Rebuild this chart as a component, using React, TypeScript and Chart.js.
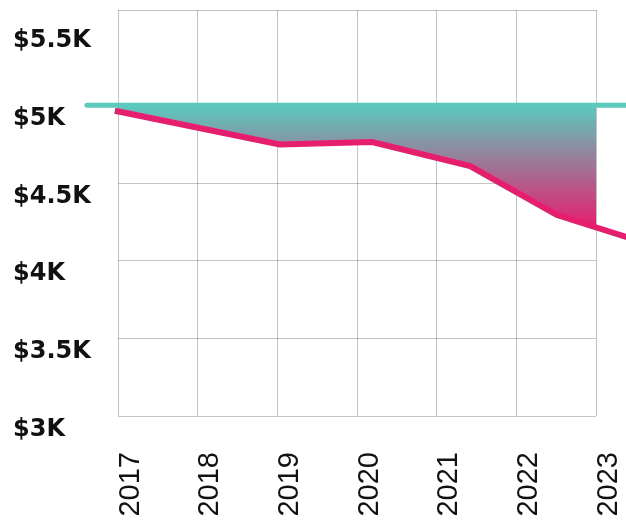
import React, { useEffect, useRef } from 'react';
import { Chart, registerables } from 'chart.js';

Chart.register(...registerables);

// ---- data ----
const years = [2017, 2018, 2019, 2020, 2021, 2022, 2023];
const yearLabels = ['2017', '2018', '2019', '2020', '2021', '2022', '2023'];
const yTickValues = [3000, 3500, 4000, 4500, 5000, 5500];
const yTickLabels = ['$3K', '$3.5K', '$4K', '$4.5K', '$5K', '$5.5K'];
const yGridValues = [3000, 3500, 4000, 4500];

// flat reference line (teal)
const baselineX = [2016.61, 2023.45];
const baselineY = [5000, 5000];

// declining value line (pink)
const valueX = [2016.61, 2016.96, 2019.03, 2020.19, 2021.42, 2022.51, 2023.45];
const valueY = [4990, 4965, 4748, 4764, 4609, 4294, 4141];

const Y_MIN = 3000;
const Y_MAX = 5614;
const GRADIENT_TOP = 5000;
const GRADIENT_BOTTOM = 4217;

// ---- style ----
const TEAL = '#5BC9BE';
const PINK = '#E61E6E';
const GRID = 'rgba(0,0,0,0.23)';

export default function App() {
  const canvasRef = useRef<HTMLCanvasElement | null>(null);

  useEffect(() => {
    const canvas = canvasRef.current;
    if (!canvas) return;

    const chart = new Chart(canvas, {
      type: 'line',
      data: {
        datasets: [
          {
            label: 'Baseline',
            data: baselineX.map((x, i) => ({ x, y: baselineY[i] })),
            borderColor: TEAL,
            borderWidth: 5,
            borderCapStyle: 'round',
            pointRadius: 0,
            fill: false,
            clip: false,
            tension: 0,
          },
          {
            label: 'Value',
            data: valueX.map((x, i) => ({ x, y: valueY[i] })),
            borderColor: PINK,
            borderWidth: 6,
            pointRadius: 0,
            fill: 0,
            clip: false,
            tension: 0,
            backgroundColor: (ctx: any) => {
              const chart = ctx.chart;
              const area = chart.chartArea;
              if (!area || !chart.scales.y) return PINK;
              const ys = chart.scales.y;
              const top = ys.getPixelForValue(GRADIENT_TOP);
              const bot = ys.getPixelForValue(GRADIENT_BOTTOM);
              const g = chart.ctx.createLinearGradient(0, top, 0, bot);
              g.addColorStop(0, TEAL);
              g.addColorStop(1, PINK);
              return g;
            },
          },
        ],
      },
      options: {
        responsive: false,
        animation: false,
        layout: { padding: { left: 13, top: 10, right: 30, bottom: 0 } },
        plugins: {
          legend: { display: false },
          tooltip: { enabled: false },
        },
        scales: {
          x: {
            type: 'linear',
            position: 'bottom',
            min: years[0],
            max: years[years.length - 1],
            grid: { color: GRID, drawTicks: false },
            border: { display: false },
            afterBuildTicks: (s: any) => {
              s.ticks = years.map((v) => ({ value: v }));
            },
            ticks: {
              autoSkip: false,
              minRotation: 90,
              maxRotation: 90,
              padding: 36,
              labelOffset: 12.5,
              color: '#111',
              font: { family: 'Liberation Sans', size: 29, weight: 'normal' },
              callback: (v: any) => {
                const i = years.indexOf(Number(v));
                return i >= 0 ? yearLabels[i] : '';
              },
            },
            afterFit: (s: any) => {
              s.height = 107;
              s.paddingLeft = 0;
              s.paddingRight = 0;
            },
          },
          xTop: {
            type: 'linear',
            position: 'top',
            min: years[0],
            max: years[years.length - 1],
            grid: { display: false, drawTicks: false },
            ticks: { display: false },
            border: { display: true, color: GRID, width: 1 },
            afterFit: (s: any) => {
              s.height = 0;
              s.paddingLeft = 0;
              s.paddingRight = 0;
            },
          },
          y: {
            type: 'linear',
            min: Y_MIN,
            max: Y_MAX,
            grid: {
              drawTicks: false,
              color: (ctx: any) =>
                ctx.tick && yGridValues.includes(ctx.tick.value) ? GRID : 'rgba(0,0,0,0)',
            },
            border: { display: false },
            afterBuildTicks: (s: any) => {
              s.ticks = yTickValues.map((v) => ({ value: v }));
            },
            ticks: {
              autoSkip: false,
              crossAlign: 'far',
              padding: 0,
              labelOffset: 13.5,
              color: '#111',
              font: { family: 'DejaVu Sans', size: 24, weight: 'bold' },
              callback: (v: any) => {
                const i = yTickValues.indexOf(Number(v));
                return i >= 0 ? yTickLabels[i] : '';
              },
            },
            afterFit: (s: any) => {
              s.width = 105;
              s.paddingTop = 0;
              s.paddingBottom = 0;
            },
          },
        },
      },
    } as any);

    return () => chart.destroy();
  }, []);

  return (
    <div style={{ position: 'absolute', left: 0, top: 0, width: 626, height: 523 }}>
      <canvas ref={canvasRef} width={626} height={523} style={{ display: 'block' }} />
    </div>
  );
}
